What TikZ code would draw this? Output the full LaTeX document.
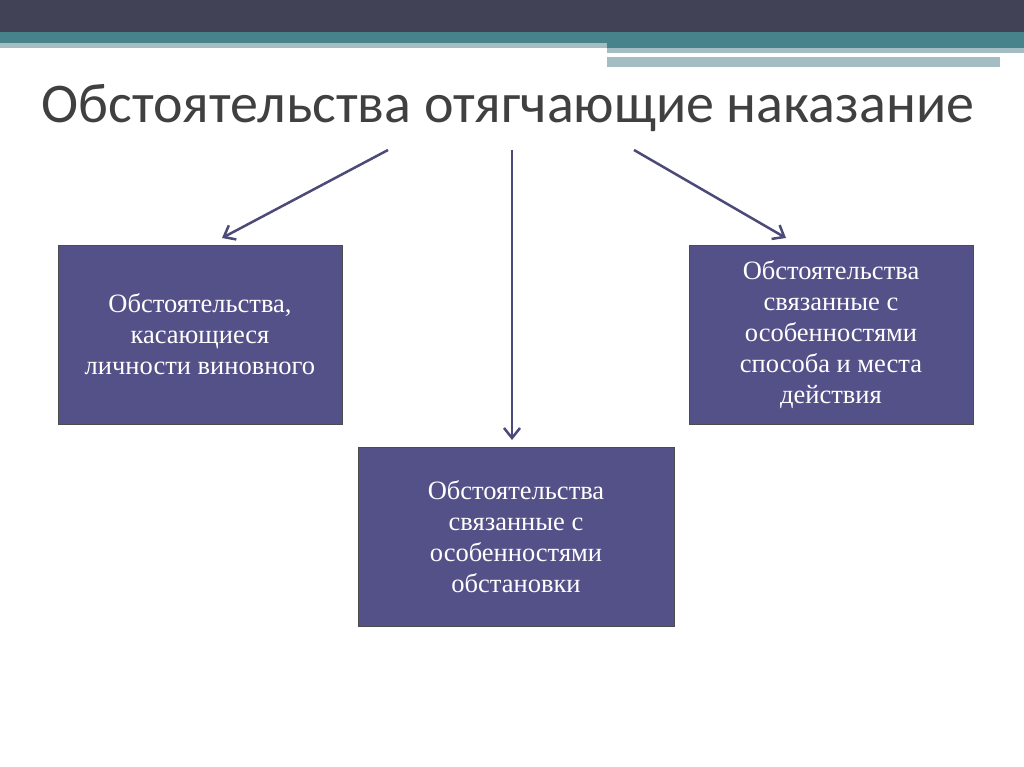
\documentclass[tikz,border=0pt]{standalone}
\usepackage{fontspec}
\setmainfont{Liberation Serif}
\newfontfamily\titlefont{Carlito}
\usetikzlibrary{arrows.meta}
\definecolor{dark}{HTML}{424256}
\definecolor{teal}{HTML}{46838A}
\definecolor{lteal}{HTML}{A3BDC2}
\definecolor{boxc}{HTML}{545188}
\definecolor{arr}{HTML}{4B4A78}
\begin{document}
\begin{tikzpicture}[x=1pt,y=-1pt,
  box/.style={draw=black!70,line width=1pt,fill=boxc,text=white,minimum width=284pt,minimum height=179pt,align=center,font=\fontsize{26.5}{31}\selectfont},
  arrw/.style={draw=arr,line width=2.5pt,-{Straight Barb[length=10pt,width=16pt]}}]
\useasboundingbox (0,0) rectangle (1024,767);
\fill[white] (0,0) rectangle (1024,767);
\fill[dark] (0,0) rectangle (1024,32);
\fill[teal] (0,32) rectangle (1024,43);
\fill[teal] (607,43) rectangle (1024,48);
\fill[lteal] (0,43) rectangle (607,48);
\fill[lteal] (607,48) rectangle (1024,53);
\fill[lteal] (607,57) rectangle (1000,67);
\fill[white] (607,53) rectangle (950,56);
\node[font=\titlefont\fontsize{56}{60}\selectfont,text=black!75] (title) at (508,108) {Обстоятельства отягчающие наказание};
\node[box] (l) at (200,334.5) {Обстоятельства,\\касающиеся\\личности виновного};
\node[box] (r) at (831,334.5) {Обстоятельства\\связанные с\\особенностями\\способа и места\\действия};
\node[box,minimum width=316pt] (c) at (516,537) {Обстоятельства\\связанные с\\особенностями\\обстановки};
\coordinate (a1) at (388,150); \coordinate (a2) at (512,150); \coordinate (a3) at (634,150);
\coordinate (b1) at (222,238); \coordinate (b2) at (512,440); \coordinate (b3) at (786,238);
\draw[arrw] (a1) -- (b1);
\draw[arrw] (a2) -- (b2);
\draw[arrw] (a3) -- (b3);
\end{tikzpicture}
\end{document}
